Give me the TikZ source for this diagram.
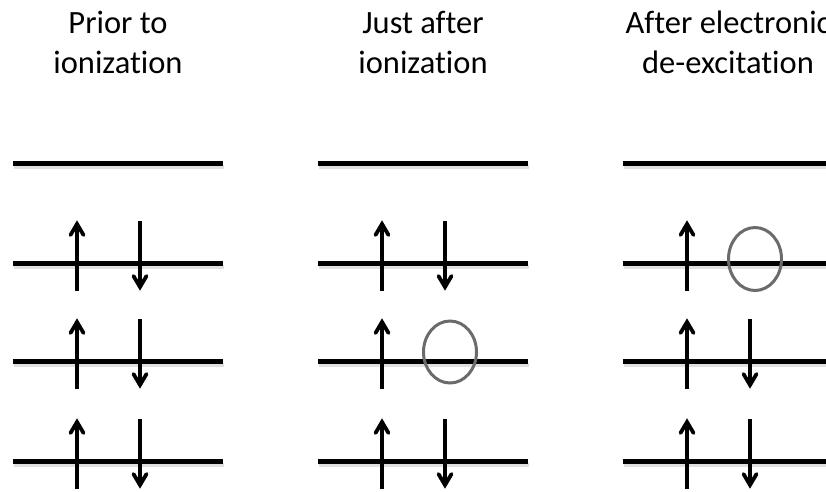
\documentclass[tikz,border=0pt]{standalone}
\usepackage{fontspec}
\setmainfont{Carlito}[Ligatures={NoCommon}]
\begin{document}
\begin{tikzpicture}[x=1pt,y=-1pt,
  level/.style={line width=5pt},
  levelshadow/.style={black!12,line width=4pt},
  shaft/.style={line width=4pt},
  barb/.style={line width=3.8pt,line join=miter,line cap=round},
  hole/.style={draw=black!58,line width=3pt},
  title/.style={font=\fontsize{32.5}{40}\selectfont,align=center,anchor=base,text height=0pt}]
\useasboundingbox (0,0) rectangle (826,491);
\fill[white] (0,0) rectangle (826,491);
\begin{scope}
\clip (0,0) rectangle (826,491);
% titles
\node[title] (t1) at (118,33) {Prior to};
\node[title] (t1b) at (118,73) {ionization};
\node[title] (t2) at (423,33) {Just after};
\node[title] (t2b) at (423,73) {ionization};
\node[title] (t3) at (728,33) {After electronic};
\node[title] (t3b) at (728,73) {de-excitation};
% levels
\foreach \x in {13,318,623}{
  \foreach \y in {163,263,361,461}{
    \draw[levelshadow] (\x+1,\y+3.5) -- (\x+211,\y+3.5);
    \draw[level] (\x,\y) -- (\x+210,\y);
  }
}
% spin up
\foreach \x/\y in {13/263,13/361,13/461,318/263,318/361,318/461,623/263,623/361,623/461}{
  \draw[shaft] (\x+64,\y+28) -- (\x+64,\y-38);
  \draw[barb] (\x+57.5,\y-28) -- (\x+64,\y-39) -- (\x+70.5,\y-28);
}
% spin down
\foreach \x/\y in {13/263,13/361,13/461,318/263,318/461,623/361,623/461}{
  \draw[shaft] (\x+127,\y-42) -- (\x+127,\y+23);
  \draw[barb] (\x+120.5,\y+13) -- (\x+127,\y+24) -- (\x+133.5,\y+13);
}
% holes
\draw[hole] (450,352) ellipse [x radius=26.5, y radius=31];
\draw[hole] (755,259) ellipse [x radius=26.5, y radius=31.5];
\end{scope}
\end{tikzpicture}
\end{document}
